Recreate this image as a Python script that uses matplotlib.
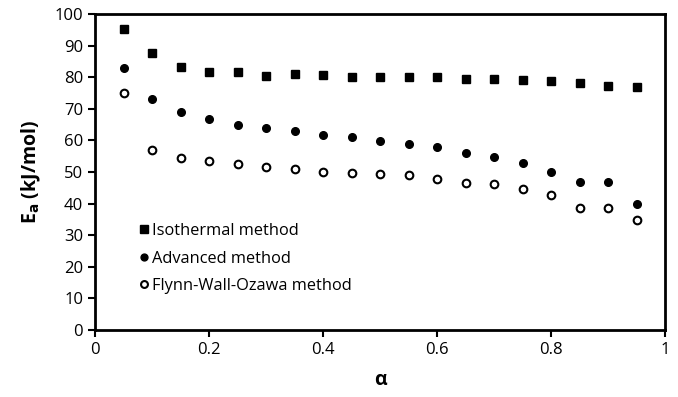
import matplotlib
matplotlib.use("Agg")
import matplotlib.pyplot as plt

alpha = [0.05, 0.10, 0.15, 0.20, 0.25, 0.30, 0.35, 0.40, 0.45, 0.50,
         0.55, 0.60, 0.65, 0.70, 0.75, 0.80, 0.85, 0.90, 0.95]
isothermal = [95.2, 87.8, 83.3, 81.5, 81.5, 80.5, 81.0, 80.6, 80.0, 80.0,
              80.0, 80.0, 79.5, 79.5, 79.0, 78.9, 78.3, 77.3, 76.8]
advanced = [83.0, 73.1, 68.9, 66.8, 64.8, 64.0, 63.0, 61.8, 61.0, 59.9,
            58.9, 58.0, 55.9, 54.8, 53.0, 49.9, 46.8, 46.8, 39.8]
fwo = [75.1, 56.9, 54.3, 53.4, 52.5, 51.7, 50.8, 50.1, 49.8, 49.5,
       49.1, 47.7, 46.6, 46.1, 44.5, 42.6, 38.5, 38.5, 34.8]

plt.rcParams["font.family"] = ["Open Sans", "DejaVu Sans"]

fig = plt.figure(figsize=(6.78, 3.97), dpi=100)
ax = fig.add_axes([95 / 678, 1 - 330 / 397, 570 / 678, 316 / 397])

ax.plot(alpha, isothermal, "s", color="black", ms=6, label="Isothermal method")
ax.plot(alpha, advanced, "o", color="black", ms=5.5, label="Advanced method")
ax.plot(alpha, fwo, "o", mfc="white", mec="black", mew=1.5, ms=5.5,
        label="Flynn-Wall-Ozawa method")

ax.set_xlim(0, 1)
ax.set_ylim(0, 100)
ax.set_xticks([0, 0.2, 0.4, 0.6, 0.8, 1])
ax.set_xticklabels(["0", "0.2", "0.4", "0.6", "0.8", "1"])
ax.set_yticks(range(0, 101, 10))
ax.tick_params(direction="out", length=5, width=1.5, labelsize=12)
for s in ax.spines.values():
    s.set_linewidth(2)

ax.set_xlabel("α", fontsize=14, fontweight="bold", labelpad=9)
ax.set_ylabel("E$_\\mathbf{a}$ (kJ/mol)", fontsize=14, fontweight="bold", labelpad=8)

ax.legend(loc="upper left", bbox_to_anchor=(0.045, 0.385), frameon=False,
          fontsize=11.8, handletextpad=0.0, handlelength=1.0, labelspacing=0.7,
          markerscale=0.9)

fig.savefig("out.png", dpi=100)
